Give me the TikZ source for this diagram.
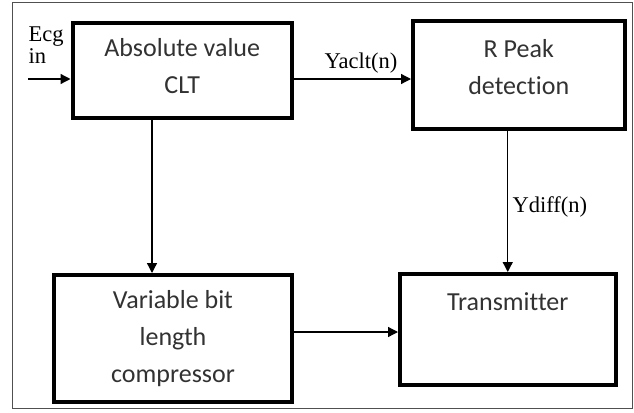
\documentclass[tikz,border=0pt]{standalone}
\usepackage{fontspec}
\setmainfont{Liberation Serif}
\newfontfamily\blockfont[Ligatures={NoCommon}]{Carlito}
\usepackage{tikz}
\usetikzlibrary{arrows.meta}
\definecolor{frame_gray}{RGB}{80,80,80}
\definecolor{text_gray}{RGB}{50,50,50}

\begin{document}
\begin{tikzpicture}[->,>={Triangle[length=10pt,width=10pt]},line width=1.3pt,x=1pt,y=-1pt]
    \tikzstyle{block}=[draw=black, line width=4pt, rectangle, fill=none]
    \tikzstyle{blocktext}=[text=text_gray, font=\blockfont\fontsize{26}{37}\selectfont, align=center]
    \tikzstyle{sig}=[text=black, inner sep=0pt, font=\fontsize{22.5}{22}\selectfont]

    \useasboundingbox (0,0) rectangle (634,412);
    \draw[-,draw=frame_gray,line width=1pt] (12,3) rectangle (632,408);

    % the four blocks, text set a bit high in some of them
    \node[block, minimum width=219.5, minimum height=95]    (abs)  at (182.25,70.5)  {};
    \node[block, minimum width=211.5, minimum height=107]   (rpk)  at (518.75,75)    {};
    \node[block, minimum width=238,   minimum height=126.5] (comp) at (173,338.25)   {};
    \node[block, minimum width=215.5, minimum height=111]   (tx)   at (507.75,329.5) {};
    \node[blocktext] (abstext)  at (182.25,66.5) {Absolute value\\CLT};
    \node[blocktext] (rpktext)  at (518.75,67)   {R Peak\\detection};
    \node[blocktext] (comptext) at (173,338.25)  {Variable bit\\length\\compressor};
    \node[blocktext] (txtext)   at (507.75,302)  {Transmitter};

    \node[sig, align=left, anchor=north west] (ecg) at (28,26) {Ecg\\in};
    \node[sig, anchor=base]      (yaclt) at (361,68)  {Yaclt(n)};
    \node[sig, anchor=base west] (ydiff) at (512,212) {Ydiff(n)};

    \coordinate (ecgin) at (28,79);
    \coordinate (dropx) at (152,0);
    \coordinate (txrow) at (0,332);
    \path
     (ecgin) edge (abs.west |- ecgin)
     (abs.east |- ecgin) edge (rpk.west |- ecgin)
     (abs.south -| dropx) edge (comp.north -| dropx)
     (rpk.south -| tx.north) edge (tx.north)
     (comp.east |- txrow) edge (tx.west |- txrow)
     ;
\end{tikzpicture}
\end{document}
